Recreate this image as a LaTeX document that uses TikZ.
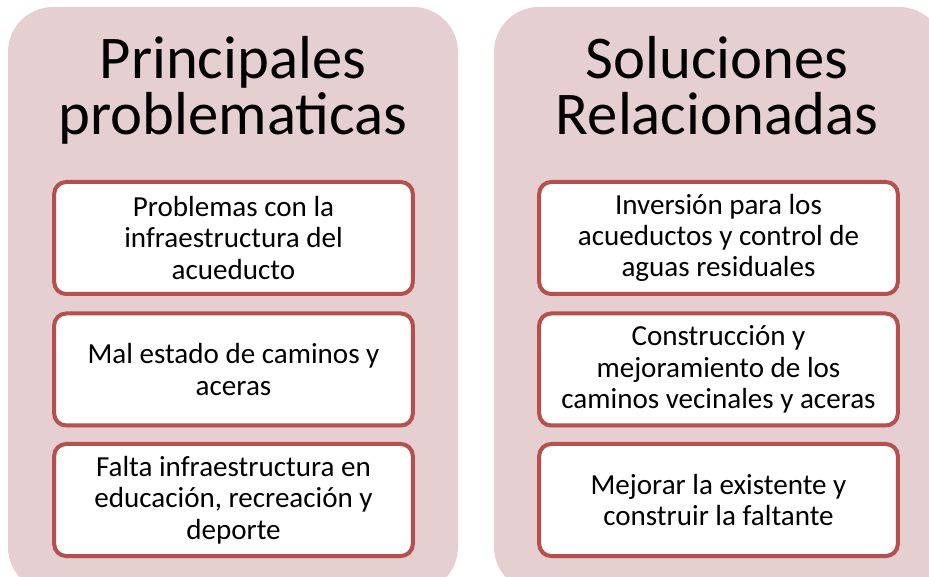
\documentclass[tikz,border=0pt]{standalone}
\usepackage{fontspec}
\setmainfont{Carlito}
\usetikzlibrary{shadows}
\definecolor{panelpink}{RGB}{230,207,208}
\definecolor{boxred}{RGB}{181,80,78}
\tikzset{
  panel/.style={fill=panelpink, rounded corners=33.75pt},
  titletext/.style={align=center, font=\fontsize{45.5}{42}\selectfont, anchor=base},
  itembox/.style={draw=boxred, line width=3pt, fill=white, rounded corners=9pt,
    minimum width=269pt, minimum height=84pt, align=center, outer sep=0pt,
    font=\fontsize{21.8}{23.5}\selectfont,
    drop shadow={shadow xshift=0pt, shadow yshift=-1.5pt, opacity=0.25}}
}
\begin{document}
\begin{tikzpicture}[x=0.75pt,y=-0.75pt]
	\useasboundingbox (0,0) rectangle (929,577);
	\clip (0,0) rectangle (929,577);
	% two pink panels
	\path[panel] (8,7) rectangle (458,592);
	\path[panel] (494,7) rectangle (944,592);
	% left column
	\node[titletext] (probtitle) at (233,135) {Principales\\problematicas};
	\node[itembox] (acued) at (233.5,238) {Problemas con la\\infraestructura del\\acueducto};
	\node[itembox] (caminos) at (233.5,369.5) {Mal estado de caminos y\\aceras};
	\node[itembox] (educ) at (233.5,500) {Falta infraestructura en\\educación, recreación y\\deporte};
	% right column
	\node[titletext] (soltitle) at (717,135) {Soluciones\\Relacionadas};
	\node[itembox] (inversion) at (718.5,238) {Inversión para los\\acueductos y control de\\aguas residuales};
	\node[itembox] (constr) at (718.5,369.5) {Construcción y\\mejoramiento de los\\caminos vecinales y aceras};
	\node[itembox] (mejorar) at (718.5,500) {Mejorar la existente y\\construir la faltante};
\end{tikzpicture}
\end{document}
